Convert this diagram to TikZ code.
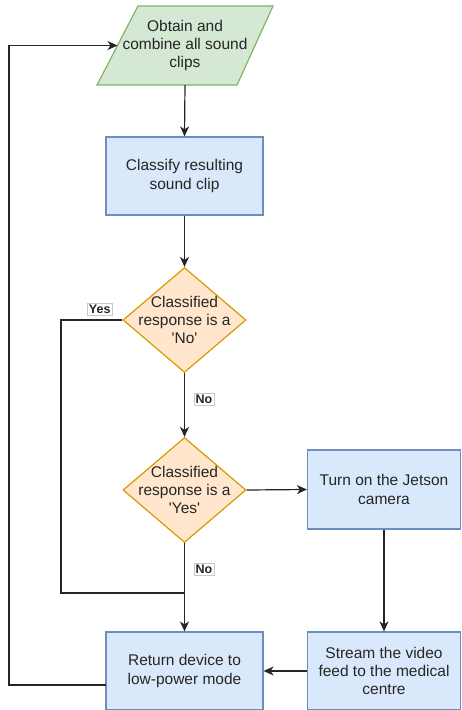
\documentclass[tikz,border=0pt]{standalone}
\usepackage{fontspec}
\setmainfont{Liberation Sans}
\usetikzlibrary{shapes.geometric,arrows.meta}
\definecolor{gfill}{HTML}{D5E8D4}\definecolor{gline}{HTML}{82B366}
\definecolor{bfill}{HTML}{DAE8FC}\definecolor{bline}{HTML}{6C8EBF}
\definecolor{ofill}{HTML}{FFE6CC}\definecolor{oline}{HTML}{D79B00}
\definecolor{txt}{HTML}{262626}\definecolor{lbl}{HTML}{C8C8C8}
\tikzset{
  base/.style={line width=1.2pt, font=\fontsize{15.5}{18.4}\selectfont, text=txt, align=center},
  procbox/.style={base, draw=bline, fill=bfill, rectangle, minimum width=157pt, minimum height=78pt, inner sep=0pt},
  iobox/.style={base, rectangle, minimum width=176pt, minimum height=79pt, inner sep=0pt},
  ioshape/.style={line width=1.2pt, draw=gline, fill=gfill, line join=miter},
  decbox/.style={base, draw=oline, fill=ofill, diamond, minimum width=123pt, minimum height=105pt, inner sep=2pt},
  conn/.style={line width=1.2pt, draw=black!85, -{Stealth[length=10pt,width=9pt,inset=3pt]}},
  plain/.style={line width=1.2pt, draw=black!85},
  tag/.style={draw=lbl, fill=white, line width=0.6pt, font=\fontsize{12.5}{14}\selectfont\bfseries, text=txt, inner sep=1.8pt}
}
\begin{document}
\begin{tikzpicture}[x=1pt,y=-1pt]
\useasboundingbox (0,0) rectangle (461,710);
\draw[ioshape] (97,85) -- (237,85) -- (273,6) -- (138,6) -- cycle;
\node[iobox] (obtain) at (185,45.5) {Obtain and\\combine all sound\\clips};
\coordinate (obtainin) at (117.5,45.5);
\coordinate (obtainout) at (185,85);
\node[procbox] (classify) at (184.5,176) {Classify resulting\\sound clip};
\node[decbox, label={[base]center:Classified\\response is a\\\textquotesingle No\textquotesingle}] (d1) at (184.5,320) {\strut};
\node[decbox, label={[base]center:Classified\\response is a\\\textquotesingle Yes\textquotesingle}] (d2) at (184.5,490) {\strut};
\node[procbox, minimum width=153pt, minimum height=79pt] (jetson) at (384,489.5) {Turn on the Jetson\\camera};
\node[procbox] (ret) at (184.5,671) {Return device to\\low-power mode};
\node[procbox, minimum width=153pt] (stream) at (384,671) {Stream the video\\feed to the medical\\centre};
\coordinate (join) at (184.5,593);
\coordinate (yl) at (61,320);
\coordinate (retout) at (106,685);
\coordinate (back) at (9,685);

\draw[conn] (obtainout) -- (classify.north);
\draw[conn] (classify.south) -- (d1.north);
\draw[conn] (d1.south) -- (d2.north);
\draw[conn] (d2.east) -- (jetson.west);
\draw[conn] (jetson.south) -- (stream.north);
\draw[conn] (stream.west) -- (ret.east);
\draw[conn] (d2.south) -- (ret.north);
\draw[plain] (d1.west) -- (yl) |- (join);
\draw[conn] (retout) -- (back) |- (obtainin);

\node[tag] (yes1) at (99.7,309) {Yes};
\node[tag] (no1) at (204,399) {No};
\node[tag] (no2) at (204,569) {No};
\end{tikzpicture}
\end{document}
